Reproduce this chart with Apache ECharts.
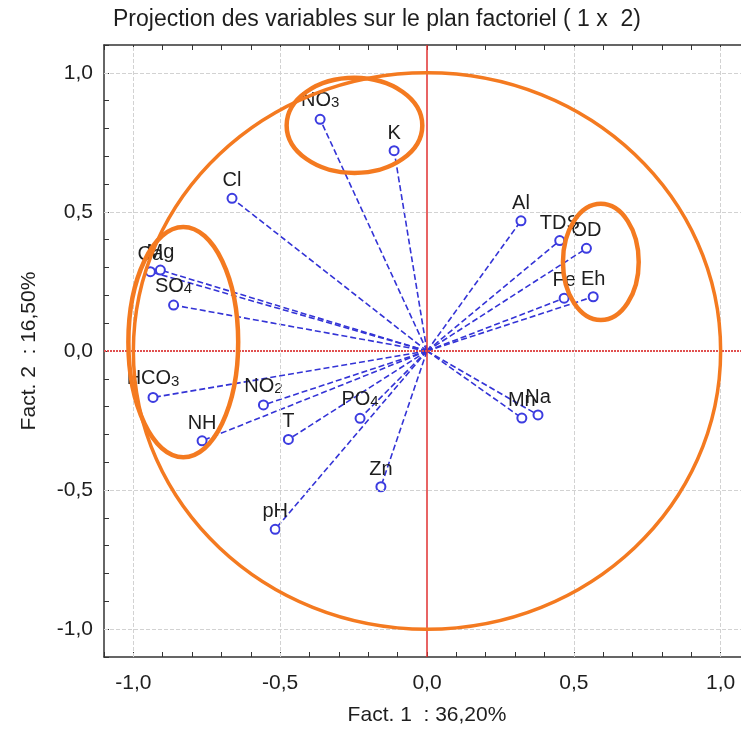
<!DOCTYPE html>
<html><head><meta charset="utf-8">
<script src="https://cdn.jsdelivr.net/npm/echarts@6/dist/echarts.min.js"></script>
<style>html,body{margin:0;padding:0;background:#fff}#c{width:741px;height:731px}</style>
</head><body><div id="c"></div>
<script>
// ---- data ----
const variables = ['NO3','K','Cl','Ca','Mg','SO4','HCO3','NO2','NH','T','PO4','Zn','pH','Al','TDS','OD','Fe','Eh','Mn','Na'];
const fact1 = [-0.364,-0.112,-0.664,-0.942,-0.908,-0.863,-0.933,-0.557,-0.766,-0.472,-0.228,-0.157,-0.517,0.320,0.452,0.543,0.467,0.566,0.323,0.378];
const fact2 = [0.833,0.720,0.549,0.285,0.291,0.165,-0.167,-0.194,-0.323,-0.318,-0.242,-0.488,-0.641,0.468,0.397,0.369,0.190,0.195,-0.241,-0.230];
const labelParts = {NO3:['NO','3'], SO4:['SO','4'], HCO3:['HCO','3'], NO2:['NO','2'], PO4:['PO','4']};
const majorTicks = [-1.0,-0.5,0.0,0.5,1.0];
const gridValues = [-1.0,-0.5,0.5,1.0];
// annotation shapes [cx, cy, rx, ry] in factor units
const correlationCircle = [0, 0, 1, 1];
const groupEllipses = [[-0.247,0.811,0.231,0.171],[-0.830,0.032,0.187,0.414],[0.592,0.320,0.129,0.209]];
const titleText = 'Projection des variables sur le plan factoriel ( 1 x  2)';
const xName = 'Fact. 1  : 36,20%';
const yName = 'Fact. 2  : 16,50%';

// ---- chart ----
const FONT = 'Liberation Sans, Arial, sans-serif';
const TXT = '#1e1e1e';
function isMajor(v){ return majorTicks.some(m => Math.abs(m - v) < 1e-6); }
function fmt(v){ if(!isMajor(v)) return ''; if (Math.abs(v) < 1e-9) v = 0; return v.toFixed(1).replace('.', ','); }

const points = variables.map((name, i) => {
  const sub = !!labelParts[name];
  return {
    name: name,
    value: [fact1[i], fact2[i]],
    label: { distance: sub ? 3 : 2 }
  };
});
const vectors = variables.map((name, i) => ({ coords: [[0, 0], [fact1[i], fact2[i]]] }));

const axisCommon = {
  type: 'value', min: -1.1, max: 1.1, interval: 0.1,
  axisLine: { onZero: false, lineStyle: { color: '#333', width: 1.5 } },
  axisTick: { inside: true, length: 5, lineStyle: { color: '#333', width: 1 } },
  splitLine: { show: false }
};

const chart = echarts.init(document.getElementById('c'), null, { renderer: 'canvas' });
chart.setOption({
  animation: false,
  backgroundColor: '#fff',
  title: {
    text: titleText, left: 113, top: 8, padding: 0,
    textStyle: { fontSize: 23, fontWeight: 'normal', color: TXT, fontFamily: FONT }
  },
  grid: { left: 104, right: -9, top: 45, bottom: 74, containLabel: false, outerBoundsMode: 'none' },
  xAxis: [
    Object.assign({}, axisCommon, {
      position: 'bottom',
      axisLabel: { formatter: fmt, fontSize: 21, color: TXT, margin: 16, fontFamily: FONT },
      name: xName, nameLocation: 'middle', nameGap: 48,
      nameTextStyle: { fontSize: 21, color: TXT, fontFamily: FONT }
    }),
    Object.assign({}, axisCommon, { position: 'top', axisLabel: { show: false } })
  ],
  yAxis: [
    Object.assign({}, axisCommon, {
      position: 'left',
      axisLabel: { formatter: fmt, fontSize: 21, color: TXT, margin: 11, fontFamily: FONT },
      name: yName, nameLocation: 'middle', nameGap: 64,
      nameTextStyle: { fontSize: 21, color: TXT, fontFamily: FONT }
    })
  ],
  series: [
    {
      type: 'scatter', data: [], silent: true, z: 1,
      markLine: {
        silent: true, symbol: 'none', label: { show: false }, animation: false,
        data: [].concat(
          gridValues.map(v => ({ xAxis: v, lineStyle: { color: '#d2d2d2', width: 1, type: [4, 2] } })),
          gridValues.map(v => ({ yAxis: v, lineStyle: { color: '#d2d2d2', width: 1, type: [4, 2] } })),
          [{ xAxis: 0, lineStyle: { color: '#e03030', width: 1.5, type: 'solid' } },
           { yAxis: 0, lineStyle: { color: '#e05050', width: 2, type: [2, 1] } }]
        )
      }
    },
    {
      type: 'lines', coordinateSystem: 'cartesian2d', silent: true, z: 3,
      data: vectors,
      lineStyle: { color: '#3434d6', width: 1.6, type: [6, 3], opacity: 1 }
    },
    {
      type: 'scatter', silent: true, z: 4,
      symbol: 'emptyCircle', symbolSize: 9,
      itemStyle: { color: '#3c3ce0', borderWidth: 1.3, opacity: 1 },
      data: points,
      label: {
        show: true, position: 'top', offset: [2, 0],
        formatter: p => {
          const parts = labelParts[p.name];
          return parts ? '{m|' + parts[0] + '}{s|' + parts[1] + '}' : '{m|' + p.name + '}';
        },
        rich: {
          m: { fontSize: 20, lineHeight: 20, color: TXT, fontFamily: FONT, verticalAlign: 'top' },
          s: { fontSize: 15, lineHeight: 15, color: TXT, fontFamily: FONT, verticalAlign: 'bottom', padding: [8, 0, 0, 0] }
        }
      },
      labelLayout: { hideOverlap: false }
    },
    {
      type: 'custom', coordinateSystem: 'cartesian2d', silent: true, z: 10, clip: false,
      data: [correlationCircle].concat(groupEllipses),
      encode: { x: 0, y: 1 },
      renderItem: (params, api) => {
        const c = api.coord([api.value(0), api.value(1)]);
        const s = api.size([api.value(2), api.value(3)]);
        return {
          type: 'ellipse',
          shape: { cx: c[0], cy: c[1], rx: s[0], ry: s[1] },
          style: { fill: 'none', stroke: '#f47a20', lineWidth: params.dataIndex === 0 ? 3.5 : 4.5 }
        };
      }
    }
  ]
});
</script>
</body></html>
